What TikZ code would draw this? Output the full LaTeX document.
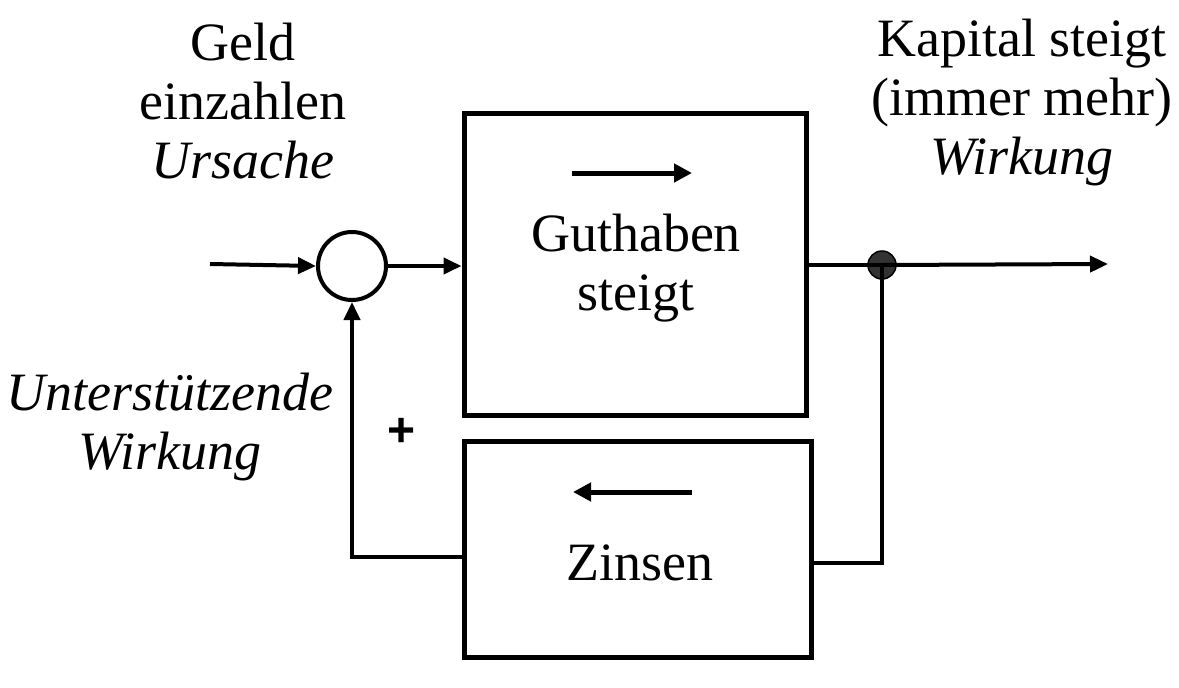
\documentclass[tikz,border=0pt]{standalone}
\usepackage{fontspec}
\setmainfont{Liberation Serif}
\setsansfont{Liberation Sans}
\usetikzlibrary{arrows.meta,calc}
\definecolor{dotgray}{HTML}{333333}
\begin{document}
\begin{tikzpicture}[x=1pt,y=-1pt,
  label/.style={font=\fontsize{54}{59}\selectfont, align=center, inner sep=0pt},
  blockbox/.style={draw, line width=5pt, inner sep=0pt},
  wire/.style={line width=4pt},
  arr/.style={wire, -{Triangle[length=18pt,width=16pt]}},
  dirarr/.style={line width=5pt, -{Triangle[length=18pt,width=18pt]}}]
  \useasboundingbox (0,0) rectangle (1179,688);

  % blocks
  \node[blockbox, minimum width=342pt, minimum height=302pt] (growth) at (635,264) {};
  \node[blockbox, minimum width=347pt, minimum height=216pt] (interest) at (637.5,549) {};
  \node[draw, circle, line width=4pt, minimum size=68pt, inner sep=0pt] (sum) at (352,266) {};
  \node[circle, fill=dotgray, draw=black, line width=1.5pt, minimum size=28pt, inner sep=0pt] (tap) at (882,265) {};

  % block texts
  \node[label] (gtext) at (636,268) {Guthaben\\steigt};
  \node[label] (ztext) at (640,563) {Zinsen};
  \draw[dirarr] (572,173) -- (692,173);
  \draw[dirarr] (692,492) -- (573,492);

  % free ends
  \coordinate (in) at (210,264);
  \coordinate (out) at (1108,264);
  \coordinate (zr) at (811,563);
  \coordinate (zl) at (464,557);

  % signal flow
  \draw[arr] (in) -- (sum.west);
  \draw[arr] (sum.east) -- (growth.west |- sum.east);
  \draw[wire] (growth.east |- tap) -- (tap.center);
  \draw[arr] (tap.center) -- (out);
  \draw[wire] (tap.center) -- (tap.center |- zr) -- (zr);
  \draw[arr] (zl) -| (sum.south);

  % annotations
  \node[label] (cause) at (243,101) {Geld\\einzahlen\\\textit{Ursache}};
  \node[label] (effect) at (1022,103) {Kapital steigt\\(immer mehr)\\\textit{Wirkung}};
  \node[label] (support) at (170,427) {\textit{Unterstützende}\\\textit{Wirkung}};
  \node[font=\sffamily\bfseries\fontsize{48}{54}\selectfont, inner sep=0pt] (plus) at (402,432) {+};
\end{tikzpicture}
\end{document}
